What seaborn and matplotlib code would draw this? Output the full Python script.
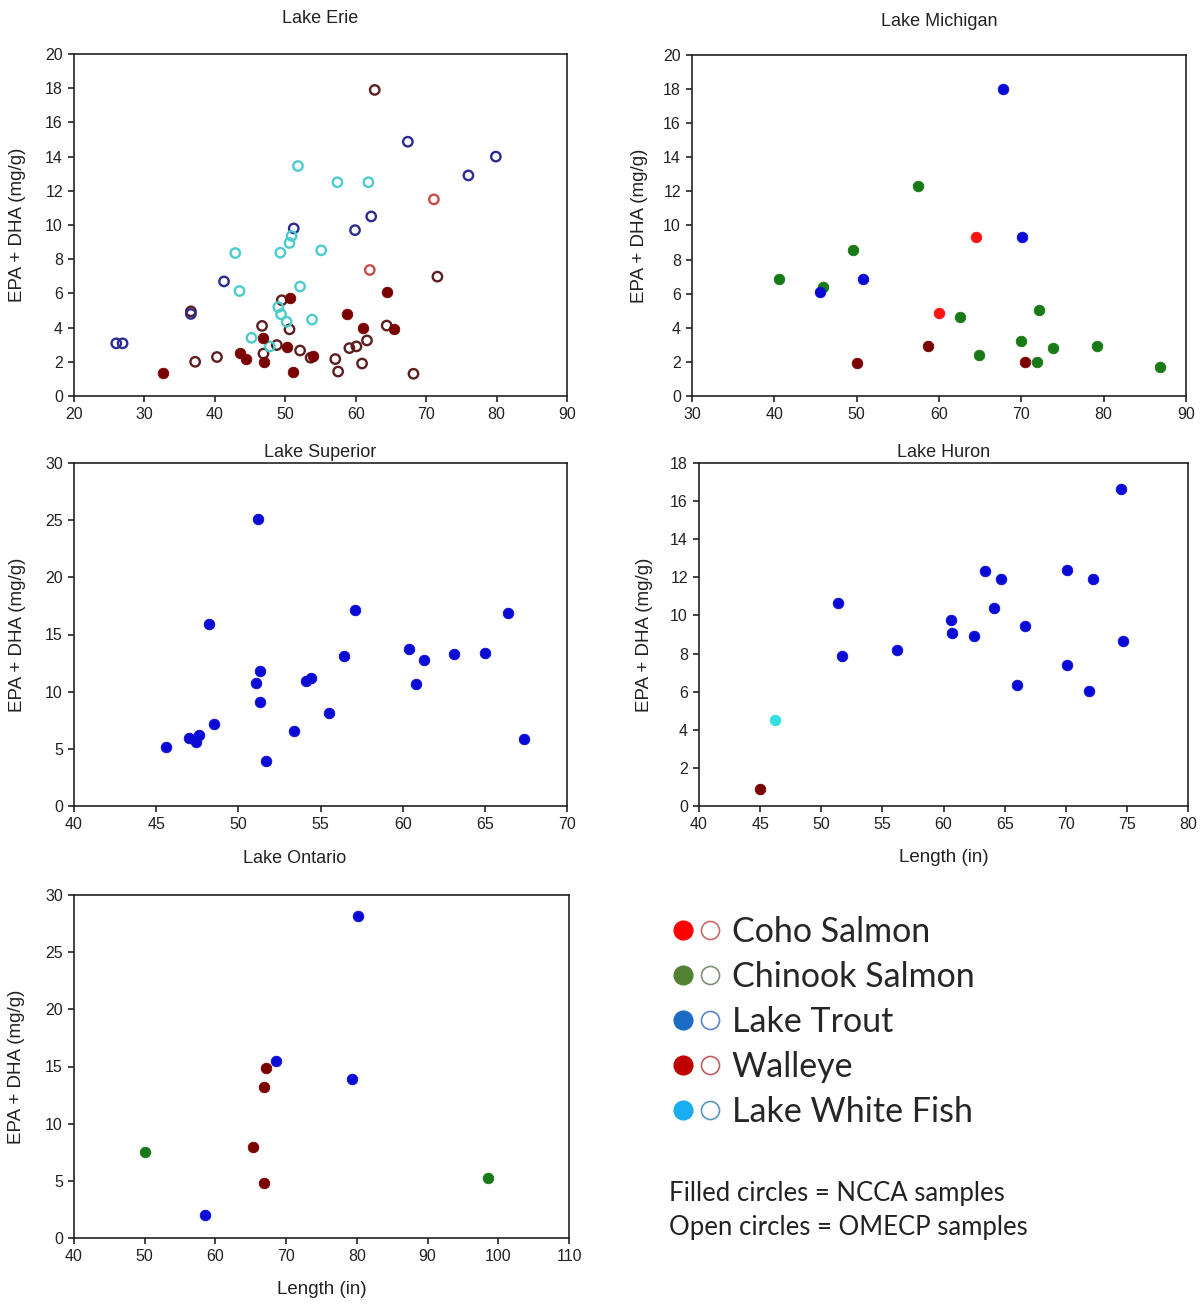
import matplotlib
matplotlib.use("Agg")
import matplotlib.pyplot as plt
import seaborn as sns
import pandas as pd
from matplotlib.lines import Line2D
from matplotlib.legend_handler import HandlerTuple

sns.set_style("ticks")
plt.rcParams['font.family'] = ['Liberation Sans', 'DejaVu Sans']

# ---------------- data (length in, EPA+DHA mg/g) ----------------
# Lake Erie
ERIE_TROUT_OPEN_X = [26.0, 26.9, 41.3, 51.2, 59.9, 62.2, 67.4, 76.0, 79.9, 36.6]
ERIE_TROUT_OPEN_Y = [3.08, 3.08, 6.7, 9.8, 9.7, 10.5, 14.87, 12.9, 14.0, 4.8]
ERIE_WHITEFISH_OPEN_X = [51.8, 57.4, 61.8, 50.9, 50.6, 42.9, 49.3, 55.1, 43.5, 52.1,
                         49.0, 49.4, 50.2, 53.8, 45.2, 47.8]
ERIE_WHITEFISH_OPEN_Y = [13.45, 12.5, 12.5, 9.36, 8.95, 8.36, 8.38, 8.52, 6.14, 6.4,
                         5.2, 4.78, 4.34, 4.47, 3.4, 2.9]
ERIE_WALLEYE_FILLED_X = [50.6, 64.5, 58.8, 61.0, 65.4, 46.8, 50.2, 54.0, 43.6, 44.4,
                         47.0, 51.1, 32.7]
ERIE_WALLEYE_FILLED_Y = [5.73, 6.08, 4.82, 3.97, 3.92, 3.38, 2.84, 2.32, 2.5, 2.18,
                         2.0, 1.43, 1.33]
ERIE_WALLEYE_OPEN_X = [62.7, 71.6, 49.5, 36.6, 46.7, 50.6, 64.4, 61.6, 48.8, 52.1,
                       59.1, 60.1, 53.6, 57.1, 46.9, 40.3, 37.2, 60.9, 57.5, 68.2]
ERIE_WALLEYE_OPEN_Y = [17.9, 6.98, 5.6, 4.95, 4.1, 3.9, 4.12, 3.25, 2.98, 2.66,
                       2.8, 2.9, 2.24, 2.16, 2.48, 2.28, 2.0, 1.9, 1.43, 1.3]
ERIE_COHO_OPEN_X = [71.1, 62.0]
ERIE_COHO_OPEN_Y = [11.5, 7.37]

# Lake Michigan
MICH_TROUT_X = [67.8, 70.1, 50.8, 45.5]
MICH_TROUT_Y = [18.0, 9.34, 6.84, 6.12]
MICH_CHINOOK_X = [57.5, 49.5, 40.6, 45.9, 62.6, 72.1, 70.0, 73.9, 79.2, 64.9, 71.9, 86.9]
MICH_CHINOOK_Y = [12.3, 8.56, 6.88, 6.41, 4.61, 5.04, 3.25, 2.84, 2.93, 2.4, 2.01, 1.72]
MICH_COHO_X = [64.5, 60.0]
MICH_COHO_Y = [9.34, 4.89]
MICH_WALLEYE_X = [58.7, 50.0, 70.5]
MICH_WALLEYE_Y = [2.95, 1.92, 2.0]

# Lake Superior
SUP_TROUT_X = [51.2, 48.2, 57.1, 66.4, 60.4, 56.4, 61.3, 63.1, 65.0, 51.3, 51.1, 54.1,
               54.4, 60.8, 51.3, 55.5, 48.5, 53.4, 47.6, 47.0, 47.4, 45.6, 67.4, 51.7]
SUP_TROUT_Y = [25.1, 15.9, 17.15, 16.9, 13.75, 13.08, 12.8, 13.3, 13.37, 11.83, 10.8, 10.96,
               11.19, 10.7, 9.07, 8.14, 7.18, 6.54, 6.25, 5.96, 5.61, 5.15, 5.82, 3.92]

# Lake Huron
HUR_TROUT_X = [74.5, 63.4, 64.7, 70.1, 72.2, 51.4, 64.1, 60.6, 66.7, 60.7, 62.5, 74.7,
               51.7, 56.2, 70.1, 66.0, 71.9]
HUR_TROUT_Y = [16.66, 12.32, 11.9, 12.41, 11.9, 10.63, 10.37, 9.74, 9.44, 9.09, 8.93, 8.67,
               7.88, 8.18, 7.38, 6.34, 6.05]
HUR_WHITEFISH_X = [46.2]
HUR_WHITEFISH_Y = [4.51]
HUR_WALLEYE_X = [45.0]
HUR_WALLEYE_Y = [0.87]

# Lake Ontario
ONT_TROUT_X = [80.1, 68.5, 79.3, 58.5]
ONT_TROUT_Y = [28.2, 15.5, 13.9, 2.0]
ONT_WALLEYE_X = [67.2, 66.85, 65.3, 66.8]
ONT_WALLEYE_Y = [14.85, 13.25, 8.0, 4.8]
ONT_CHINOOK_X = [50.0, 98.5]
ONT_CHINOOK_Y = [7.55, 5.25]

SPECIES = ["Coho Salmon", "Chinook Salmon", "Lake Trout", "Walleye", "Lake White Fish"]
NOTE_LINES = ["Filled circles = NCCA samples", "Open circles = OMECP samples"]

# ---------------- styles ----------------
FILL = {"Coho Salmon": "#ff1414", "Chinook Salmon": "#177a17", "Lake Trout": "#0b0bd6",
        "Walleye": "#7a0000", "Lake White Fish": "#33e0e0"}
OPEN = {"Coho Salmon": "#c84c4c", "Chinook Salmon": "#177a17", "Lake Trout": "#2c2c92",
        "Walleye": "#5c1e1e", "Lake White Fish": "#4ccccc"}
LEG_FILL = ["#ff0000", "#548235", "#1b6cc2", "#c00000", "#1aaef0"]
LEG_OPEN = ["#c86a6a", "#80907a", "#5a86c4", "#c06060", "#5a98b8"]

rows = []
def add(lake, species, sample, xs, ys):
    for x, y in zip(xs, ys):
        rows.append(dict(lake=lake, species=species, sample=sample, length=x, epa=y))

add("Erie", "Walleye", "open", ERIE_WALLEYE_OPEN_X, ERIE_WALLEYE_OPEN_Y)
add("Erie", "Lake Trout", "open", ERIE_TROUT_OPEN_X, ERIE_TROUT_OPEN_Y)
add("Erie", "Lake White Fish", "open", ERIE_WHITEFISH_OPEN_X, ERIE_WHITEFISH_OPEN_Y)
add("Erie", "Coho Salmon", "open", ERIE_COHO_OPEN_X, ERIE_COHO_OPEN_Y)
add("Erie", "Walleye", "filled", ERIE_WALLEYE_FILLED_X, ERIE_WALLEYE_FILLED_Y)
add("Michigan", "Chinook Salmon", "filled", MICH_CHINOOK_X, MICH_CHINOOK_Y)
add("Michigan", "Lake Trout", "filled", MICH_TROUT_X, MICH_TROUT_Y)
add("Michigan", "Coho Salmon", "filled", MICH_COHO_X, MICH_COHO_Y)
add("Michigan", "Walleye", "filled", MICH_WALLEYE_X, MICH_WALLEYE_Y)
add("Superior", "Lake Trout", "filled", SUP_TROUT_X, SUP_TROUT_Y)
add("Huron", "Lake Trout", "filled", HUR_TROUT_X, HUR_TROUT_Y)
add("Huron", "Lake White Fish", "filled", HUR_WHITEFISH_X, HUR_WHITEFISH_Y)
add("Huron", "Walleye", "filled", HUR_WALLEYE_X, HUR_WALLEYE_Y)
add("Ontario", "Lake Trout", "filled", ONT_TROUT_X, ONT_TROUT_Y)
add("Ontario", "Walleye", "filled", ONT_WALLEYE_X, ONT_WALLEYE_Y)
add("Ontario", "Chinook Salmon", "filled", ONT_CHINOOK_X, ONT_CHINOOK_Y)
df = pd.DataFrame(rows)

W, H = 1203, 1305
fig = plt.figure(figsize=(W / 100, H / 100), dpi=100)

def add_ax(l, t, r, b):
    return fig.add_axes([l / W, 1 - b / H, (r - l) / W, (b - t) / H])

# lake, title, box(px), xlim, xstep, ylim, ystep, title pad(pt), title x, ylabel x, show xlabel
PANELS = [
    ("Erie", "Lake Erie", (74, 54, 567, 396), (20, 90), 10, (0, 20), 2, 22.5, 0.5, -0.098, False),
    ("Michigan", "Lake Michigan", (692, 55, 1186, 396), (30, 90), 10, (0, 20), 2, 21.0, 0.5, -0.090, False),
    ("Superior", "Lake Superior", (74, 463, 567, 806), (40, 70), 5, (0, 30), 5, 4.0, 0.5, -0.098, False),
    ("Huron", "Lake Huron", (699, 463, 1188, 806), (40, 80), 5, (0, 18), 2, 4.0, 0.5, -0.094, True),
    ("Ontario", "Lake Ontario", (74, 895, 569, 1238), (40, 110), 10, (0, 30), 5, 23.0, 0.445, -0.098, True),
]

for lake, title, box, xl, xs, yl, ys, tpad, tx, ylx, showx in PANELS:
    ax = add_ax(*box)
    sub = df[df.lake == lake]
    for (sp, sample), g in sub.groupby(["species", "sample"], sort=False):
        if sample == "filled":
            sns.scatterplot(data=g, x="length", y="epa", ax=ax, color=FILL[sp],
                            marker="o", s=58, edgecolor=FILL[sp], linewidth=0.6, zorder=3)
        else:
            sns.scatterplot(data=g, x="length", y="epa", ax=ax, marker="o", s=46,
                            facecolor="none", edgecolor=OPEN[sp], linewidth=1.7, zorder=3)
    ax.set_xlim(*xl)
    ax.set_ylim(*yl)
    ax.set_xticks(range(xl[0], xl[1] + 1, xs))
    ax.set_yticks(range(yl[0], yl[1] + 1, ys))
    ax.tick_params(direction="out", length=4, width=1.2, top=False, right=False,
                   labelsize=11.5, colors="#222222", pad=4)
    for s in ax.spines.values():
        s.set_visible(True)
        s.set_linewidth(1.2)
        s.set_color("#222222")
    ax.set_title(title, fontsize=13, pad=tpad, x=tx, color="#222222")
    ax.set_ylabel("EPA + DHA (mg/g)", fontsize=13.5, color="#222222")
    ax.yaxis.set_label_coords(ylx, 0.5)
    if showx:
        ax.set_xlabel("Length (in)", fontsize=13.5, color="#222222")
        ax.xaxis.set_label_coords(0.5, -0.125)
    else:
        ax.set_xlabel("")

# ---------------- legend ----------------
handles = []
for fc, oc in zip(LEG_FILL, LEG_OPEN):
    h1 = Line2D([], [], linestyle="none", marker="o", markersize=13.5,
                markerfacecolor=fc, markeredgecolor=fc)
    h2 = Line2D([], [], linestyle="none", marker="o", markersize=13,
                markerfacecolor="white", markeredgecolor=oc, markeredgewidth=1.2)
    handles.append((h1, h2))

leg = fig.legend(handles, SPECIES, handler_map={tuple: HandlerTuple(ndivide=None, pad=0.24)},
                 loc="upper left", bbox_to_anchor=(673 / W, 1 - 916 / H),
                 frameon=False, prop={"family": "Lato", "size": 24.5},
                 handlelength=1.36, handletextpad=0.37, labelspacing=0.38,
                 borderpad=0, borderaxespad=0)

fig.text(669 / W, 1 - 1193 / H, NOTE_LINES[0], fontsize=18.5, family="Lato",
         va="center", ha="left", color="#222222")
fig.text(669 / W, 1 - 1228 / H, NOTE_LINES[1], fontsize=18.5, family="Lato",
         va="center", ha="left", color="#222222")

fig.savefig("out.png", dpi=100)
